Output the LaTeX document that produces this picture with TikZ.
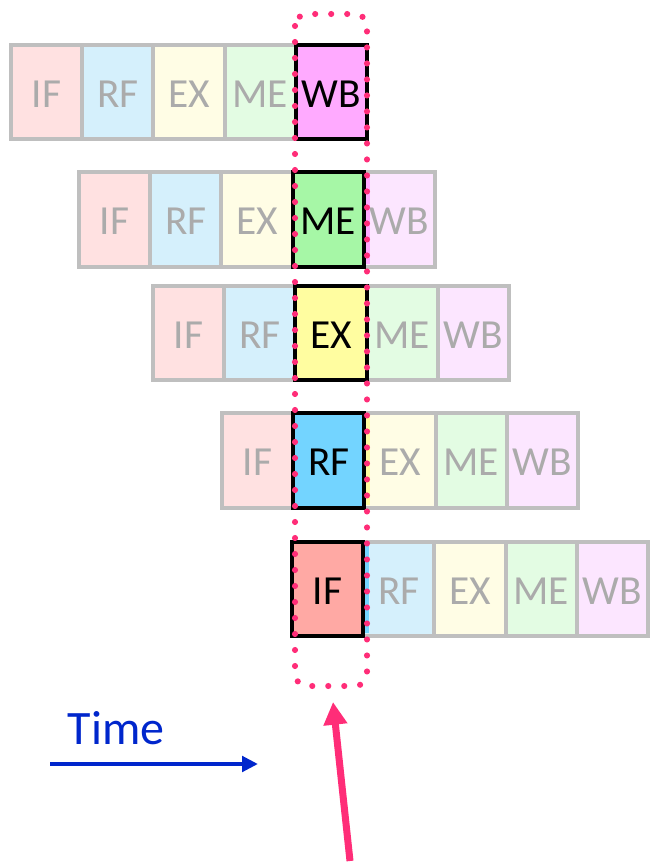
\documentclass[tikz,border=0pt]{standalone}
\usepackage{fontspec}
\setmainfont{Carlito}
\usetikzlibrary{arrows.meta}

% stage colours: faded (off) and active (on)
\definecolor{ifoff}{HTML}{FFE1E1}\definecolor{ifon}{HTML}{FFA9A4}
\definecolor{rfoff}{HTML}{D5F0FC}\definecolor{rfon}{HTML}{73D4FF}
\definecolor{exoff}{HTML}{FFFDE5}\definecolor{exon}{HTML}{FFFDA0}
\definecolor{meoff}{HTML}{E3FCE3}\definecolor{meon}{HTML}{A6F7A6}
\definecolor{wboff}{HTML}{FCE6FF}\definecolor{wbon}{HTML}{FFAAFF}
\definecolor{cellgray}{HTML}{BFBFBF}
\definecolor{labgray}{HTML}{ABABAB}
\definecolor{hot}{HTML}{FF2D78}
\definecolor{timeblue}{HTML}{0026CC}

\tikzset{
  cellbase/.style={rectangle, inner sep=0pt, outer sep=0pt,
    minimum width=53.4pt, minimum height=70.9pt,
    line width=3pt, font=\fontsize{31}{33}\selectfont,
    text height=23pt, text depth=0pt},
  celloff/.style={cellbase, draw=cellgray, text=labgray},
  cellon/.style={cellbase, draw=black, text=black},
  hotdots/.style={draw=hot, line width=4.6pt, line cap=round,
    dash pattern=on 0pt off 12pt, rounded corners=9pt},
  hotarrow/.style={draw=hot, line width=5.25pt,
    -{Triangle[width=17pt,length=17pt]}},
  timearrow/.style={draw=timeblue, line width=3pt,
    -{Triangle[width=11.5pt,length=12pt]}},
}

\begin{document}
\begin{tikzpicture}[x=0.75pt,y=-0.75pt]
\useasboundingbox (0,0) rectangle (649,862);

% row / left edge / vertical centre / active stage
\def\rows{1/11/92/5, 2/79/219.5/4, 3/153/333/3, 4/222/460.5/2, 5/292/589/1}
\def\stages{1/IF/if, 2/RF/rf, 3/EX/ex, 4/ME/me, 5/WB/wb}

% inactive stages
\foreach \r/\x/\y/\h in \rows {
  \foreach \c/\lab/\col in \stages {
    \ifnum\c=\h\relax\else
      \node[celloff, fill=\col off] (r\r c\c) at ({\x+(\c-0.5)*71.2}, \y) {\lab};
    \fi
  }
}

% thin strips of the following stage peeking out behind the active cells
\fill[wbon] (365,175) rectangle (370,264);
\fill[exon] (365,416) rectangle (370,505);
\fill[rfon] (363,545) rectangle (369,633);

% active stage of each instruction
\foreach \r/\x/\y/\h in \rows {
  \foreach \c/\lab/\col in \stages {
    \ifnum\c=\h\relax
      \node[cellon, fill=\col on] (r\r c\c) at ({\x+(\c-0.5)*71.2}, \y) {\lab};
    \fi
  }
}

% dotted outline around the column of active stages
\draw[hotdots] (295,14) rectangle (367,686);

% pointer to the column
\coordinate (ptail) at (350,861);
\coordinate (ptip) at (333,702);
\draw[hotarrow] (ptail) -- (ptip);

% time axis
\node[text=timeblue, font=\fontsize{36}{40}\selectfont, anchor=base] (timelab) at (116,744) {Time};
\coordinate (tstart) at (50,764);
\coordinate (tend) at (258,764);
\draw[timearrow] (tstart) -- (tend);
\end{tikzpicture}
\end{document}
